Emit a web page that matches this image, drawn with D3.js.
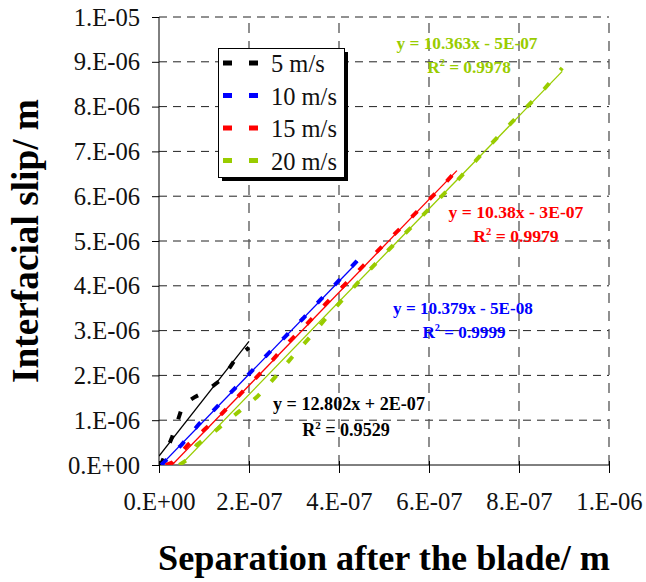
<!DOCTYPE html>
<html>
<head>
<meta charset="utf-8">
<script src="https://cdn.jsdelivr.net/npm/d3@7"></script>
<style>
  body { margin: 0; background: #fff; }
  svg { display: block; }
</style>
</head>
<body>
<svg id="chart" width="646" height="582"></svg>
<script>
// x values in 1e-7 m, y values in 1e-6 m
const xTicks = [0, 2e-7, 4e-7, 6e-7, 8e-7, 1e-6];
const xTickLabels = ["0.E+00", "2.E-07", "4.E-07", "6.E-07", "8.E-07", "1.E-06"];
const yTicks = [0, 1e-6, 2e-6, 3e-6, 4e-6, 5e-6, 6e-6, 7e-6, 8e-6, 9e-6, 1e-5];
const yTickLabels = ["0.E+00", "1.E-06", "2.E-06", "3.E-06", "4.E-06", "5.E-06",
  "6.E-06", "7.E-06", "8.E-06", "9.E-06", "1.E-05"];

const seriesNames = ["5 m/s", "10 m/s", "15 m/s", "20 m/s"];
const seriesColors = ["#000000", "#0000ff", "#ff0000", "#99cc00"];

const slip5 = [[0, 0], [0.07, 0.07], [0.29, 0.62], [0.42, 1.0], [0.53, 1.34], [0.8, 1.52],
  [1.02, 1.63], [1.4, 1.92], [1.73, 2.41], [2.0, 2.62]];
const slip10 = [[0.05, 0], [0.1, 0.05], [0.5, 0.45], [0.9, 0.93], [1.1, 1.1], [1.5, 1.52],
  [1.95, 1.98], [2.4, 2.46], [2.8, 2.86], [3.2, 3.27], [3.6, 3.7], [4.0, 4.12], [4.42, 4.58]];
const slip15 = [[0.15, 0], [0.3, 0.06], [0.64, 0.45], [1.0, 0.78], [1.4, 1.15], [1.9, 1.68],
  [2.4, 2.2], [2.8, 2.66], [3.3, 3.16], [3.8, 3.7], [4.3, 4.2], [4.8, 4.72], [5.3, 5.22],
  [5.8, 5.72], [6.2, 6.12], [6.62, 6.58]];
const slip20 = [[0.45, 0], [0.6, 0.1], [0.84, 0.45], [1.3, 0.8], [1.76, 1.18], [2.18, 1.52],
  [2.58, 1.96], [2.96, 2.41], [3.36, 2.86], [3.73, 3.3], [4.13, 3.75], [4.6, 4.27],
  [5.1, 4.8], [5.6, 5.3], [6.1, 5.82], [6.6, 6.32], [7.1, 6.86], [7.6, 7.4], [8.1, 7.92],
  [8.5, 8.32], [8.96, 8.86]];

// trendline coefficients as printed on the chart
const slopes = [12.802, 10.379, 10.38, 10.363];
const intercepts = [2e-7, -5e-8, -3e-7, -5e-7];
const eqLabels = ["y = 12.802x + 2E-07", "y = 10.379x - 5E-08", "y = 10.38x - 3E-07", "y = 10.363x - 5E-07"];
const r2Labels = ["0.9529", "0.9999", "0.9979", "0.9978"];

const allSeries = [slip5, slip10, slip15, slip20].map(s => s.map(([a, b]) => [a * 1e-7, b * 1e-6]));

const svg = d3.select("#chart");
const margin = { left: 159, top: 17, right: 37, bottom: 117 };
const W = 646, H = 582;

const x = d3.scaleLinear().domain([0, 1e-6]).range([margin.left, W - margin.right]);
const y = d3.scaleLinear().domain([0, 1e-5]).range([H - margin.bottom, margin.top]);

const serif = "'Liberation Serif', 'Times New Roman', Times, 'DejaVu Serif', 'Noto Serif', Georgia, serif";

// pick a font size so that a text spans a given width
function fitSize(str, width, weight) {
  const t = svg.append("text")
    .style("font-family", serif).attr("font-size", 20).attr("font-weight", weight || "normal")
    .text(str);
  const len = t.node().getComputedTextLength();
  t.remove();
  return 20 * width / len;
}

svg.append("defs").append("clipPath").attr("id", "plotClip")
  .append("rect")
  .attr("x", x(0)).attr("y", y(1e-5))
  .attr("width", x(1e-6) - x(0)).attr("height", y(0) - y(1e-5));

// grid lines
const grid = svg.append("g");
grid.selectAll("line.h")
  .data(yTicks.slice(1))
  .enter().append("line")
  .attr("x1", x(0)).attr("x2", x(1e-6))
  .attr("y1", d => y(d)).attr("y2", d => y(d))
  .attr("stroke", "#222").attr("stroke-width", 1)
  .attr("stroke-dasharray", "8,6");
grid.selectAll("line.v")
  .data(xTicks.slice(1))
  .enter().append("line")
  .attr("x1", d => x(d)).attr("x2", d => x(d))
  .attr("y1", y(0)).attr("y2", y(1e-5))
  .attr("stroke", "#555").attr("stroke-width", 1.3)
  .attr("stroke-dasharray", "10,8");

const tickSize = fitSize("0.E+00", 72);

// axes
const xAxis = svg.append("g")
  .attr("transform", `translate(0,${y(0)})`)
  .call(d3.axisBottom(x).tickValues(xTicks).tickSize(8)
    .tickFormat((d, i) => xTickLabels[i]));
xAxis.select(".domain").remove();
xAxis.append("line").attr("x1", x(0)).attr("x2", x(1e-6)).attr("stroke", "#000");
xAxis.selectAll(".tick line").attr("y1", -4).attr("y2", 8).attr("stroke", "#000");
xAxis.selectAll(".tick text")
  .attr("y", 45).attr("dy", 0)
  .style("font-family", serif).attr("font-size", tickSize).attr("fill", "#111");

const yAxis = svg.append("g")
  .attr("transform", `translate(${x(0)},0)`)
  .call(d3.axisLeft(y).tickValues(yTicks).tickSize(7)
    .tickFormat((d, i) => yTickLabels[i]));
yAxis.select(".domain").remove();
yAxis.append("line").attr("y1", y(0)).attr("y2", y(1e-5)).attr("stroke", "#000");
yAxis.selectAll(".tick line").attr("stroke", "#000");
yAxis.selectAll(".tick text")
  .attr("x", -19).attr("dy", "0.33em")
  .style("font-family", serif).attr("font-size", tickSize).attr("fill", "#111");

// series: thin trendline + thick dashed data line
const plot = svg.append("g").attr("clip-path", "url(#plotClip)");
const line = d3.line().x(d => x(d[0])).y(d => y(d[1]));

allSeries.forEach((s, i) => {
  const x0 = d3.min(s, d => d[0]), x1 = d3.max(s, d => d[0]);
  const fit = [[x0, slopes[i] * x0 + intercepts[i]], [x1, slopes[i] * x1 + intercepts[i]]];
  plot.append("path")
    .attr("d", line(fit))
    .attr("fill", "none")
    .attr("stroke", seriesColors[i])
    .attr("stroke-width", 1.3);
  plot.append("path")
    .attr("d", line(s))
    .attr("fill", "none")
    .attr("stroke", seriesColors[i])
    .attr("stroke-width", 4)
    .attr("stroke-dasharray", "8,17");
});

// trendline equations: [eq centre x, eq baseline, eq width, R2 centre x, R2 baseline]
const eqPos = [[349, 410, 152, 346, 436], [463, 314, 140, 464, 338],
  [516, 218, 135, 516, 242], [467, 49, 141, 469, 73]];
eqPos.forEach((p, i) => {
  const fs = fitSize(eqLabels[i], p[2], "bold");
  svg.append("text")
    .attr("x", p[0]).attr("y", p[1])
    .attr("text-anchor", "middle")
    .style("font-family", serif).attr("font-size", fs).attr("font-weight", "bold")
    .attr("fill", seriesColors[i])
    .text(eqLabels[i]);
  const t = svg.append("text")
    .attr("x", p[3]).attr("y", p[4])
    .attr("text-anchor", "middle")
    .style("font-family", serif).attr("font-size", fs).attr("font-weight", "bold")
    .attr("fill", seriesColors[i]);
  t.append("tspan").text("R");
  t.append("tspan").attr("dy", -7).attr("font-size", fs * 0.6).text("2");
  t.append("tspan").attr("dy", 7).text(" = " + r2Labels[i]);
});

// legend
const legend = svg.append("g");
legend.append("rect")
  .attr("x", 222).attr("y", 52).attr("width", 126).attr("height", 129)
  .attr("fill", "#000");
legend.append("rect")
  .attr("x", 218.5).attr("y", 48.5).attr("width", 126).attr("height", 129)
  .attr("fill", "#fff").attr("stroke", "#000").attr("stroke-width", 1);
const legSize = fitSize("10 m/s", 66);
seriesNames.forEach((name, i) => {
  const cy = 63 + i * 32.5;
  [223, 249].forEach(sx => {
    legend.append("rect")
      .attr("x", sx).attr("y", cy - 2.5).attr("width", 9).attr("height", 5)
      .attr("fill", seriesColors[i]);
  });
  legend.append("text")
    .attr("x", 271).attr("y", cy + 9)
    .style("font-family", serif).attr("font-size", legSize)
    .attr("fill", "#111")
    .text(name);
});

// axis titles
svg.append("text")
  .attr("x", (x(0) + x(1e-6)) / 2).attr("y", 570)
  .attr("text-anchor", "middle")
  .style("font-family", serif).attr("font-weight", "bold")
  .attr("font-size", fitSize("Separation after the blade/ m", 452, "bold"))
  .text("Separation after the blade/ m");

svg.append("text")
  .attr("transform", `translate(38,${(y(0) + y(1e-5)) / 2}) rotate(-90)`)
  .attr("text-anchor", "middle")
  .style("font-family", serif).attr("font-weight", "bold")
  .attr("font-size", fitSize("Interfacial slip/ m", 284, "bold"))
  .text("Interfacial slip/ m");
</script>
</body>
</html>
